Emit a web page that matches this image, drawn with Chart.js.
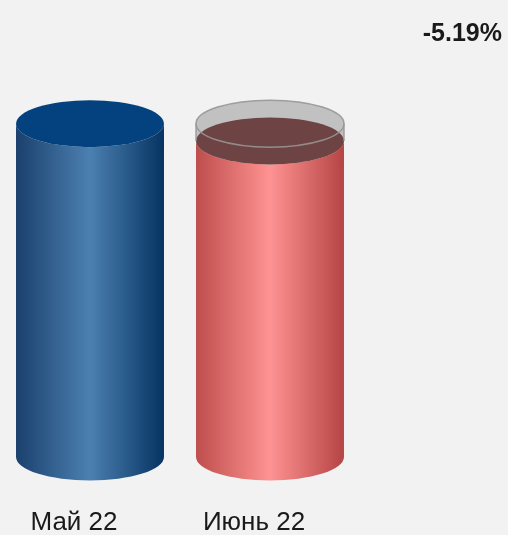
<!DOCTYPE html>
<html>
<head>
<meta charset="utf-8">
<script src="https://cdn.jsdelivr.net/npm/chart.js@4/dist/chart.umd.min.js"></script>
<style>
  html, body { margin: 0; padding: 0; background: #f2f2f2; }
  canvas { display: block; }
</style>
</head>
<body>
<canvas id="chart" width="508" height="535"></canvas>
<script>
// Data
const categories = ['Май 22', 'Июнь 22'];
const values = [520, 493];

// Cylinder colours: [edge, centre, edge, top]
const bodyColors = [
    ['#1b406d', '#4b80b1', '#063362', '#03427f'],
    ['#bd4e4c', '#ff9292', '#b54544', '#8a5454'],
];

const change = ((values[1] - values[0]) / values[0]) * 100;
const changeLabel = change.toFixed(2) + '%';

const RY = 23.5;

function cylinderPath(ctx, x, top, base, rx, ry) {
    ctx.beginPath();
    ctx.moveTo(x - rx, top);
    ctx.lineTo(x - rx, base);
    ctx.ellipse(x, base, rx, ry, 0, Math.PI, 0, true);
    ctx.lineTo(x + rx, top);
    ctx.ellipse(x, top, rx, ry, 0, 0, Math.PI, false);
    ctx.closePath();
}

const cylinders = {
    id: 'cylinders',
    afterDatasetsDraw(chart) {
        const ctx = chart.ctx;
        const bars = chart.getDatasetMeta(0).data;
        ctx.save();
        bars.forEach((bar, i) => {
            const { x, y, base, width } = bar.getProps(['x', 'y', 'base', 'width'], true);
            const rx = width / 2;
            const c = bodyColors[i];
            const grad = ctx.createLinearGradient(x - rx, 0, x + rx, 0);
            grad.addColorStop(0, c[0]);
            grad.addColorStop(0.5, c[1]);
            grad.addColorStop(1, c[2]);
            cylinderPath(ctx, x, y, base, rx, RY);
            ctx.fillStyle = grad;
            ctx.fill();
            ctx.beginPath();
            ctx.ellipse(x, y, rx, RY, 0, 0, Math.PI * 2);
            ctx.fillStyle = c[3];
            ctx.fill();

            // ghost of previous period level
            if (i > 0) {
                const prevY = bars[i - 1].getProps(['y'], true).y;
                ctx.fillStyle = 'rgba(0,0,0,0.2)';
                cylinderPath(ctx, x, prevY, y, rx, RY);
                ctx.fill();
                ctx.beginPath();
                ctx.ellipse(x, prevY, rx, RY, 0, 0, Math.PI * 2);
                ctx.fill();
                ctx.strokeStyle = 'rgba(150,150,150,0.9)';
                ctx.lineWidth = 1.5;
                ctx.stroke();
                ctx.beginPath();
                ctx.moveTo(x - rx, prevY);
                ctx.lineTo(x - rx, y);
                ctx.moveTo(x + rx, prevY);
                ctx.lineTo(x + rx, y);
                ctx.stroke();
            }
        });

        // change label
        ctx.fillStyle = '#1a1a1a';
        ctx.font = 'bold 25px "Liberation Sans", Arial, sans-serif';
        ctx.textAlign = 'right';
        ctx.textBaseline = 'alphabetic';
        ctx.fillText(changeLabel, 502, 41);
        ctx.restore();
    },
};

new Chart(document.getElementById('chart'), {
    type: 'bar',
    data: {
        labels: categories,
        datasets: [{
            data: values,
            backgroundColor: 'rgba(0,0,0,0)',
            borderWidth: 0,
            categoryPercentage: 1,
            barPercentage: 0.822,
        }],
    },
    options: {
        responsive: false,
        animation: false,
        events: [],
        layout: { padding: { top: 98, left: 0, right: 148, bottom: -3.6 } },
        plugins: {
            legend: { display: false },
            tooltip: { enabled: false },
        },
        scales: {
            y: { display: false, min: 0, max: 560 },
            x: {
                grid: { display: false, drawTicks: true, tickLength: 50.4 },
                border: { display: false },
                ticks: {
                    padding: 0,
                    labelOffset: -16,
                    color: '#1a1a1a',
                    font: { family: '"Liberation Sans", Arial, sans-serif', size: 26 },
                },
            },
        },
    },
    plugins: [cylinders],
});
</script>
</body>
</html>
